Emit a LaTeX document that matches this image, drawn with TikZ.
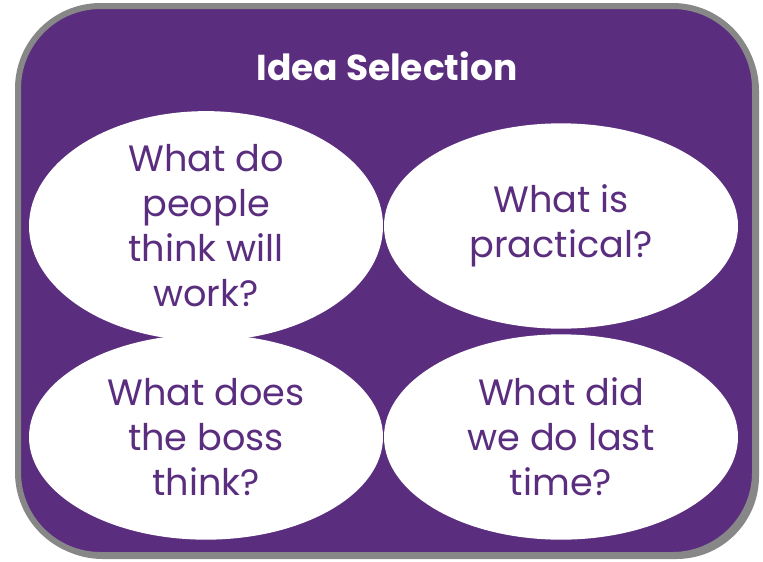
\documentclass[tikz,border=0pt]{standalone}
\usepackage{fontspec}
\setmainfont{Poppins}
\usetikzlibrary{shapes.geometric}

\definecolor{ideapurple}{HTML}{5A2D7F}
\definecolor{framegray}{HTML}{878787}

\tikzset{
  question/.style={ellipse, fill=white, inner sep=0pt,
    minimum width=265.5pt, minimum height=154pt,
    align=center, text=ideapurple,
    font=\fontsize{27.5}{33.75}\selectfont},
}

\begin{document}
\begin{tikzpicture}[x=0.75pt, y=-0.75pt]
  \useasboundingbox (0,0) rectangle (763,561);

  % frame with a small shadow
  \fill[framegray, rounded corners=62pt] (20,8) rectangle (759,559);
  \draw[framegray, fill=ideapurple, line width=4.5pt, rounded corners=62pt]
    (18,6) rectangle (755,555);

  \node[text=white, font=\fontsize{27}{30}\selectfont\bfseries] (title) at (387,66) {Idea Selection};

  \node[question] (q1) at (206,226) {What do\\people\\think will\\work?};
  \node[question] (q2) at (561,226) {What is\\practical?};
  \node[question] (q3) at (206,437) {What does\\the boss\\think?};
  \node[question] (q4) at (561,437) {What did\\we do last\\time?};
\end{tikzpicture}
\end{document}
